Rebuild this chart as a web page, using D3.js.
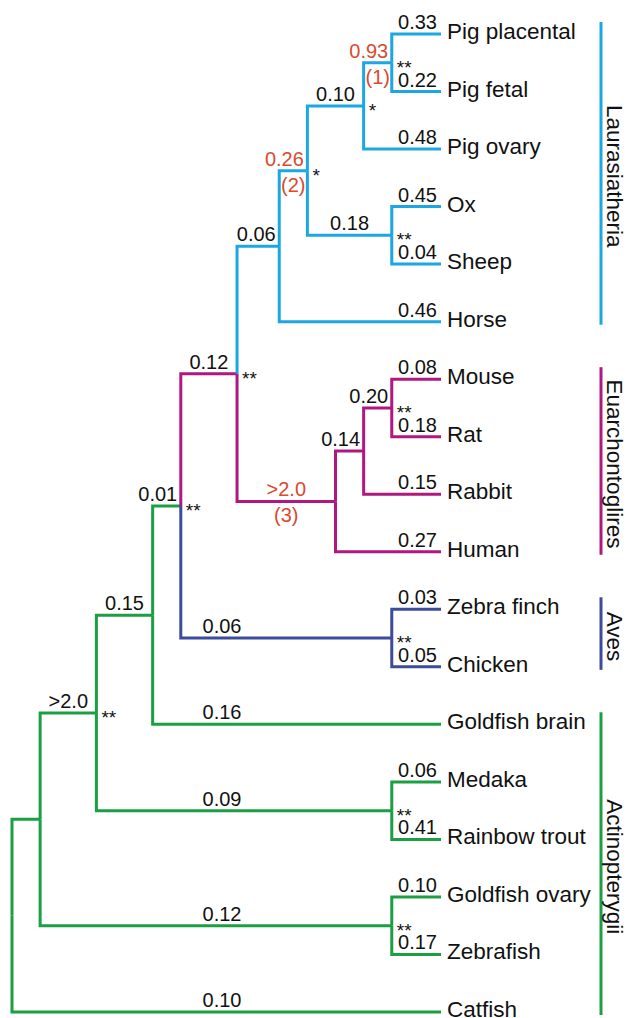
<!DOCTYPE html>
<html>
<head>
<meta charset="utf-8">
<script src="https://cdn.jsdelivr.net/npm/d3@7"></script>
<style>
  body { margin: 0; background: #fff; }
  svg { display: block; font-family: "Liberation Sans", Arial, Helvetica, sans-serif; }
</style>
</head>
<body>
<div id="main"></div>
<script>
// leaves, top to bottom
const leafNames = [
  'Pig placental', 'Pig fetal', 'Pig ovary', 'Ox', 'Sheep', 'Horse',
  'Mouse', 'Rat', 'Rabbit', 'Human', 'Zebra finch', 'Chicken',
  'Goldfish brain', 'Medaka', 'Rainbow trout', 'Goldfish ovary', 'Zebrafish', 'Catfish'
];

const cladeNames = ['Laurasiatheria', 'Euarchontoglires', 'Aves', 'Actinopterygii'];

// tree rows: id, parent, level (node rank as drawn), branch value, support, clade, note
const nodes = [
  { id: 'root', parent: null, level: 0, len: '', sup: '', clade: 'Actinopterygii' },
  { id: 'A', parent: 'root', level: 1, len: '', sup: '', clade: 'Actinopterygii' },
  { id: 'B', parent: 'A', level: 3, len: '>2.0', sup: '**', clade: 'Actinopterygii' },
  { id: 'C', parent: 'B', level: 5, len: '0.15', sup: '', clade: 'Actinopterygii' },
  { id: 'D', parent: 'C', level: 6, len: '0.01', sup: '**', clade: 'Actinopterygii' },
  { id: 'E', parent: 'D', level: 8, len: '0.12', sup: '**', clade: 'Euarchontoglires' },
  { id: 'F', parent: 'E', level: 9.5, len: '0.06', sup: '', clade: 'Laurasiatheria' },
  { id: 'H', parent: 'F', level: 10.5, len: '0.26', sup: '*', clade: 'Laurasiatheria', note: '(2)' },
  { id: 'I', parent: 'H', level: 12.5, len: '0.10', sup: '*', clade: 'Laurasiatheria' },
  { id: 'PP', parent: 'I', level: 13.5, len: '0.93', sup: '**', clade: 'Laurasiatheria', note: '(1)' },
  { id: 'Pig placental', parent: 'PP', level: 15.25, len: '0.33', sup: '', clade: 'Laurasiatheria' },
  { id: 'Pig fetal', parent: 'PP', level: 15.25, len: '0.22', sup: '', clade: 'Laurasiatheria' },
  { id: 'Pig ovary', parent: 'I', level: 15.25, len: '0.48', sup: '', clade: 'Laurasiatheria' },
  { id: 'OS', parent: 'H', level: 13.5, len: '0.18', sup: '**', clade: 'Laurasiatheria' },
  { id: 'Ox', parent: 'OS', level: 15.25, len: '0.45', sup: '', clade: 'Laurasiatheria' },
  { id: 'Sheep', parent: 'OS', level: 15.25, len: '0.04', sup: '', clade: 'Laurasiatheria' },
  { id: 'Horse', parent: 'F', level: 15.25, len: '0.46', sup: '', clade: 'Laurasiatheria' },
  { id: 'G', parent: 'E', level: 11.5, len: '>2.0', sup: '', clade: 'Euarchontoglires', note: '(3)' },
  { id: 'J', parent: 'G', level: 12.5, len: '0.14', sup: '', clade: 'Euarchontoglires' },
  { id: 'MR', parent: 'J', level: 13.5, len: '0.20', sup: '**', clade: 'Euarchontoglires' },
  { id: 'Mouse', parent: 'MR', level: 15.25, len: '0.08', sup: '', clade: 'Euarchontoglires' },
  { id: 'Rat', parent: 'MR', level: 15.25, len: '0.18', sup: '', clade: 'Euarchontoglires' },
  { id: 'Rabbit', parent: 'J', level: 15.25, len: '0.15', sup: '', clade: 'Euarchontoglires' },
  { id: 'Human', parent: 'G', level: 15.25, len: '0.27', sup: '', clade: 'Euarchontoglires' },
  { id: 'AV', parent: 'D', level: 13.5, len: '0.06', sup: '**', clade: 'Aves' },
  { id: 'Zebra finch', parent: 'AV', level: 15.25, len: '0.03', sup: '', clade: 'Aves' },
  { id: 'Chicken', parent: 'AV', level: 15.25, len: '0.05', sup: '', clade: 'Aves' },
  { id: 'Goldfish brain', parent: 'C', level: 15.25, len: '0.16', sup: '', clade: 'Actinopterygii' },
  { id: 'MT', parent: 'B', level: 13.5, len: '0.09', sup: '**', clade: 'Actinopterygii' },
  { id: 'Medaka', parent: 'MT', level: 15.25, len: '0.06', sup: '', clade: 'Actinopterygii' },
  { id: 'Rainbow trout', parent: 'MT', level: 15.25, len: '0.41', sup: '', clade: 'Actinopterygii' },
  { id: 'GZ', parent: 'A', level: 13.5, len: '0.12', sup: '**', clade: 'Actinopterygii' },
  { id: 'Goldfish ovary', parent: 'GZ', level: 15.25, len: '0.10', sup: '', clade: 'Actinopterygii' },
  { id: 'Zebrafish', parent: 'GZ', level: 15.25, len: '0.17', sup: '', clade: 'Actinopterygii' },
  { id: 'Catfish', parent: 'root', level: 15.25, len: '0.10', sup: '', clade: 'Actinopterygii' }
];

const width = 632, height = 1018;
const colors = {
  Laurasiatheria: '#1ba7e1',
  Euarchontoglires: '#b0187f',
  Aves: '#3d4b9b',
  Actinopterygii: '#1c9f42'
};
const red = '#da4a2e';

const sx = d3.scaleLinear().domain([0, 15.25]).range([12, 441]);
const sy = d3.scalePoint().domain(leafNames).range([34, 1012]);

const root = d3.stratify().id(d => d.id).parentId(d => d.parent)(nodes);
root.eachAfter(n => {
  n.x = sx(n.data.level);
  n.y = n.children
    ? (n.children[0].y + n.children[n.children.length - 1].y) / 2
    : sy(n.data.id);
});

const svg = d3.select('#main').append('svg')
  .attr('viewBox', [0, 0, width, height])
  .attr('width', width).attr('height', height);

const edges = root.descendants().filter(n => n.parent);

// branches: vertical at parent, then horizontal to the child
svg.append('g').selectAll('path').data(edges).join('path')
  .attr('d', n => `M${n.parent.x},${n.parent.y}V${n.y}H${n.x}`)
  .attr('fill', 'none')
  .attr('stroke', n => colors[n.data.clade])
  .attr('stroke-width', 3)
  .attr('stroke-linejoin', 'miter');

// branch values
const labelPos = n => {
  const mid = (n.x + n.parent.x) / 2;
  if (!n.children && n.parent.data.level >= 9.5) return [n.x - 4, 'end'];
  if (n.x - n.parent.x > 150) return [222, 'middle'];
  return [Math.min(mid, n.x - 23), 'middle'];
};

svg.append('g').selectAll('text').data(edges.filter(n => n.data.len)).join('text')
  .attr('x', n => labelPos(n)[0])
  .attr('y', n => n.y - 5)
  .attr('text-anchor', n => labelPos(n)[1])
  .attr('font-size', 20)
  .attr('fill', n => n.data.note ? red : '#111')
  .text(n => n.data.len);

svg.append('g').selectAll('text').data(edges.filter(n => n.data.note)).join('text')
  .attr('x', n => (n.x + n.parent.x) / 2)
  .attr('y', n => n.y + 21)
  .attr('text-anchor', 'middle')
  .attr('font-size', 20)
  .attr('fill', red)
  .text(n => n.data.note);

// support asterisks
svg.append('g').selectAll('text').data(root.descendants().filter(n => n.data.sup)).join('text')
  .attr('x', n => n.x + 5)
  .attr('y', n => n.y + 11)
  .attr('font-size', 19)
  .attr('fill', '#111')
  .text(n => n.data.sup);

// leaf names
svg.append('g').selectAll('text').data(root.leaves()).join('text')
  .attr('x', n => n.x + 6)
  .attr('y', n => n.y + 5)
  .attr('font-size', 22.5)
  .attr('fill', '#111')
  .text(n => n.data.id);

// clade bars
const clades = cladeNames.map(c => {
  const ys = root.leaves().filter(n => n.data.clade === c).map(n => n.y);
  return { name: c, y0: d3.min(ys) - 12, y1: d3.max(ys) + 3 };
});

const cg = svg.append('g').selectAll('g').data(clades).join('g');
cg.append('line')
  .attr('x1', 601).attr('x2', 601)
  .attr('y1', d => d.y0).attr('y2', d => d.y1)
  .attr('stroke', d => colors[d.name])
  .attr('stroke-width', 3);
cg.append('text')
  .attr('transform', d => `translate(607,${(d.y0 + d.y1) / 2 + 3}) rotate(90)`)
  .attr('text-anchor', 'middle')
  .attr('font-size', 22.5)
  .attr('fill', '#111')
  .text(d => d.name);
</script>
</body>
</html>
